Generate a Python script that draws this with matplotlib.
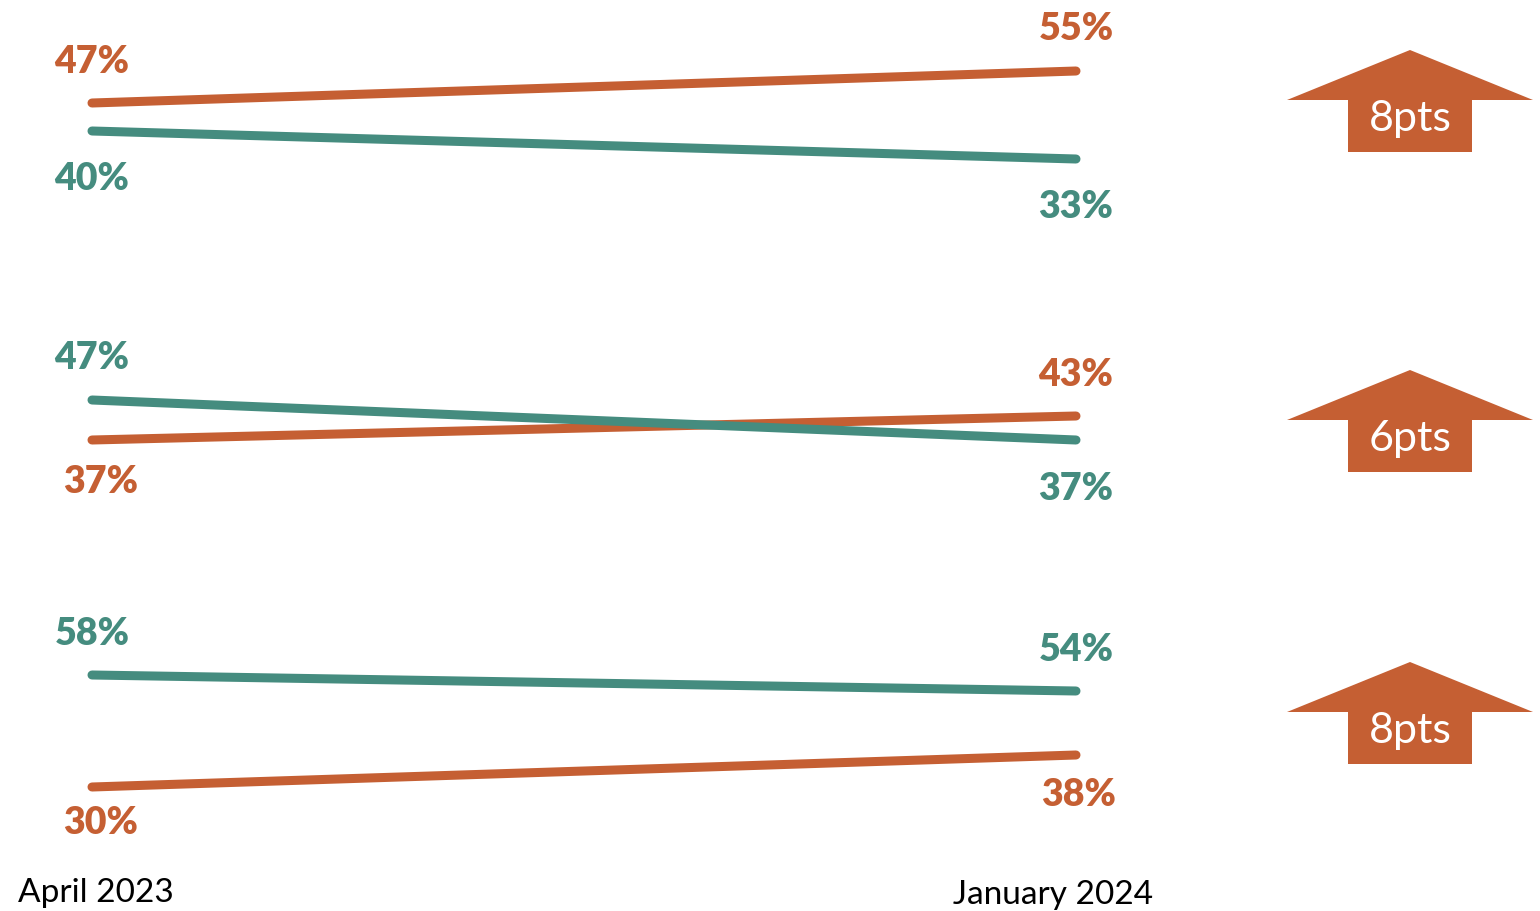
import matplotlib.pyplot as plt
from matplotlib.patches import Polygon

plt.rcParams['font.family'] = ['Lato', 'DejaVu Sans']

ORANGE = '#C55F33'
TEAL = '#458C7F'

periods = ['April 2023', 'January 2024']

# each panel: orange series, teal series (start, end)
orange_vals = [[47, 55], [37, 43], [30, 38]]
teal_vals = [[40, 33], [47, 37], [58, 54]]

# label offsets in pixels (left, right) for each series per panel
orange_off = [[(0, 42), (0, 43)], [(9, -41), (0, 42)], [(9, -35), (3, -39)]]
teal_off = [[(0, -47), (0, -47)], [(0, 43), (0, -48)], [(0, 42), (0, 42)]]

# y-limit tops so every panel shares the same 4 px per point scale
ylim_tops = [73.0, 71.25, 75.0]

W, H = 1540, 912
fig = plt.figure(figsize=(W / 100, H / 100), dpi=100)

x0, x1 = 92, 1076
panel_h = H / 3
for i in range(3):
    bottom = 1 - (i + 1) / 3
    ax = fig.add_axes([x0 / W, bottom, (x1 - x0) / W, 1 / 3])
    top = ylim_tops[i]
    ax.set_ylim(top - panel_h / 4, top)
    ax.set_xlim(0, 1)
    ax.axis('off')
    for vals, offs, col in ((orange_vals[i], orange_off[i], ORANGE),
                            (teal_vals[i], teal_off[i], TEAL)):
        ax.plot([0, 1], vals, color=col, lw=6.5, solid_capstyle='round', clip_on=False)
        for xi, v, off in zip([0, 1], vals, offs):
            ax.annotate(f'{v}%', (xi, v), xytext=off, textcoords='offset pixels',
                        ha='center', va='center', color=col, fontsize=27,
                        fontweight='heavy', annotation_clip=False)

# overlay in pixel coordinates for the change arrows and period labels
ov = fig.add_axes([0, 0, 1, 1])
ov.set_xlim(0, W)
ov.set_ylim(H, 0)
ov.axis('off')

arrow_tips = [51, 371, 663]
cx = 1410
for tip, vals in zip(arrow_tips, orange_vals):
    change = vals[1] - vals[0]
    pts = [(cx, tip), (1533, tip + 50), (1472, tip + 50), (1472, tip + 102),
           (1348, tip + 102), (1348, tip + 50), (1287, tip + 50)]
    ov.add_patch(Polygon(pts, closed=True, facecolor=ORANGE, edgecolor='none'))
    ov.text(cx, tip + 68, f'{change}pts', ha='center', va='center',
            color='white', fontsize=31)

ov.text(96, 893, periods[0], ha='center', va='center', fontsize=24, color='black')
ov.text(1053, 895, periods[1], ha='center', va='center', fontsize=24, color='black')

fig.savefig('out.png', dpi=100, facecolor='white')
